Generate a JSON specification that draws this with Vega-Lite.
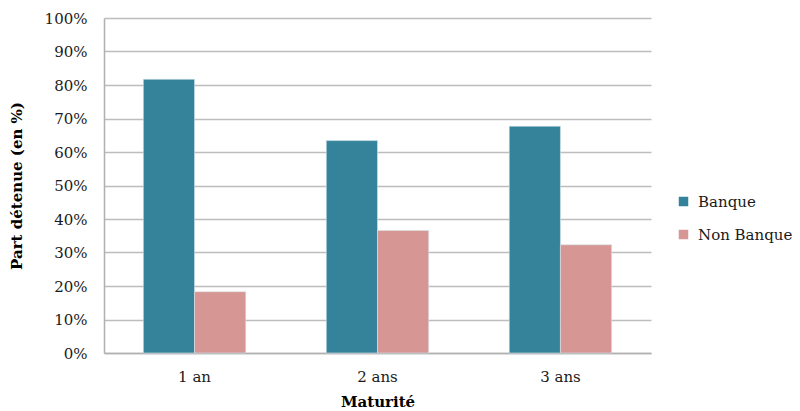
{
  "$schema": "https://vega.github.io/schema/vega-lite/v6.json",
  "width": 547,
  "height": 335,
  "autosize": {"type": "none"},
  "padding": {"left": 104, "top": 18, "right": 149, "bottom": 58},
  "background": "white",
  "config": {
    "font": "DejaVu Serif",
    "view": {"stroke": null}
  },
  "data": {
    "values": [
      {"maturite": "1 an", "type": "Banque", "part": 0.817},
      {"maturite": "1 an", "type": "Non Banque", "part": 0.183},
      {"maturite": "2 ans", "type": "Banque", "part": 0.634},
      {"maturite": "2 ans", "type": "Non Banque", "part": 0.366},
      {"maturite": "3 ans", "type": "Banque", "part": 0.677},
      {"maturite": "3 ans", "type": "Non Banque", "part": 0.323}
    ]
  },
  "mark": {"type": "bar", "stroke": "#d6e6ec", "strokeWidth": 0.6},
  "encoding": {
    "x": {
      "field": "maturite",
      "type": "nominal",
      "sort": ["1 an", "2 ans", "3 ans"],
      "scale": {"paddingInner": 0.44, "paddingOuter": 0.215},
      "axis": {
        "title": "Maturité",
        "titleFont": "DejaVu Serif",
        "titleFontSize": 15,
        "titleFontWeight": "bold",
        "titleColor": "#000000",
        "titlePadding": 10,
        "labelAngle": 0,
        "labelFontSize": 15,
        "labelColor": "#1a1a1a",
        "labelPadding": 16,
        "ticks": false,
        "domainColor": "#b0b0b0",
        "domainWidth": 1.5
      }
    },
    "xOffset": {"field": "type", "type": "nominal", "sort": ["Banque", "Non Banque"]},
    "y": {
      "field": "part",
      "type": "quantitative",
      "scale": {"domain": [0, 1]},
      "axis": {
        "title": "Part détenue (en %)",
        "titleFont": "DejaVu Serif",
        "titleFontSize": 15,
        "titleFontWeight": "bold",
        "titleColor": "#000000",
        "titlePadding": 20,
        "format": ".0%",
        "values": [0, 0.1, 0.2, 0.3, 0.4, 0.5, 0.6, 0.7, 0.8, 0.9, 1],
        "labelFontSize": 15,
        "labelColor": "#1a1a1a",
        "labelPadding": 17,
        "ticks": false,
        "grid": true,
        "gridColor": "#bdbdbd",
        "gridWidth": 1.5,
        "domainColor": "#b0b0b0",
        "domainWidth": 1.5
      }
    },
    "color": {
      "field": "type",
      "type": "nominal",
      "scale": {"domain": ["Banque", "Non Banque"], "range": ["#35839a", "#d69694"]},
      "legend": {
        "title": null,
        "orient": "none",
        "legendX": 572,
        "legendY": 176,
        "symbolType": "square",
        "symbolSize": 90,
        "symbolStrokeWidth": 0,
        "labelFontSize": 15,
        "labelColor": "#1a1a1a",
        "rowPadding": 17,
        "labelOffset": 7
      }
    }
  }
}
